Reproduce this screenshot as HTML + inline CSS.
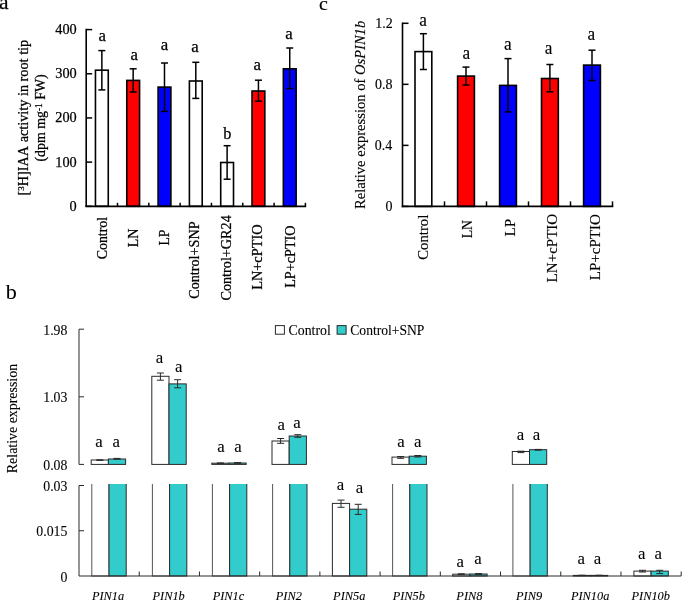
<!DOCTYPE html>
<html><head><meta charset="utf-8"><style>
html,body{margin:0;padding:0;background:#fff;}
svg{display:block;font-family:"Liberation Serif", serif;will-change:transform;}
text{fill:#000;stroke:#000;stroke-width:0.1px;font-kerning:none;font-variant-ligatures:none;font-feature-settings:"liga" 0,"kern" 0;}
.pa text{stroke-width:0.25px;} .pc text{stroke-width:0.15px;} .pb text{stroke-width:0.1px;}
</style></head><body>
<svg width="685" height="603" viewBox="0 0 685 603">
<g class="pa">
<text transform="translate(-0.9,9.3)" font-size="21.5" >a</text>
<line x1="86.2" y1="206.3" x2="92.2" y2="206.3" stroke="#000" stroke-width="1.5"/>
<text transform="translate(69.54,210.74) scale(1,1.0)" font-size="14.3" >0</text>
<line x1="86.2" y1="162.12" x2="92.2" y2="162.12" stroke="#000" stroke-width="1.5"/>
<text transform="translate(55.24,166.56) scale(1,1.0)" font-size="14.3" >100</text>
<line x1="86.2" y1="117.95" x2="92.2" y2="117.95" stroke="#000" stroke-width="1.5"/>
<text transform="translate(55.24,122.39) scale(1,1.0)" font-size="14.3" >200</text>
<line x1="86.2" y1="73.78" x2="92.2" y2="73.78" stroke="#000" stroke-width="1.5"/>
<text transform="translate(55.24,78.21) scale(1,1.0)" font-size="14.3" >300</text>
<line x1="86.2" y1="29.6" x2="92.2" y2="29.6" stroke="#000" stroke-width="1.5"/>
<text transform="translate(55.24,34.04) scale(1,1.0)" font-size="14.3" >400</text>
<rect x="95.46" y="70.2" width="12.8" height="136.1" fill="#fff" stroke="#000" stroke-width="1.6"/>
<line x1="101.86" y1="50.6" x2="101.86" y2="89.9" stroke="#000" stroke-width="1.5"/>
<line x1="98.36" y1="50.6" x2="105.36" y2="50.6" stroke="#000" stroke-width="1.5"/>
<line x1="98.36" y1="89.9" x2="105.36" y2="89.9" stroke="#000" stroke-width="1.5"/>
<text transform="translate(98.49,40.8)" font-size="16.8" >a</text>
<rect x="126.77" y="80.4" width="12.8" height="125.9" fill="#f00" stroke="#000" stroke-width="1.6"/>
<line x1="133.17" y1="68.8" x2="133.17" y2="92.0" stroke="#000" stroke-width="1.5"/>
<line x1="129.67" y1="68.8" x2="136.67" y2="68.8" stroke="#000" stroke-width="1.5"/>
<line x1="129.67" y1="92.0" x2="136.67" y2="92.0" stroke="#000" stroke-width="1.5"/>
<text transform="translate(130.44,60.2)" font-size="16.8" >a</text>
<rect x="158.09" y="87.1" width="12.8" height="119.2" fill="#00f" stroke="#000" stroke-width="1.6"/>
<line x1="164.49" y1="63.0" x2="164.49" y2="111.4" stroke="#000" stroke-width="1.5"/>
<line x1="160.99" y1="63.0" x2="167.99" y2="63.0" stroke="#000" stroke-width="1.5"/>
<line x1="160.99" y1="111.4" x2="167.99" y2="111.4" stroke="#000" stroke-width="1.5"/>
<text transform="translate(160.79,50.2)" font-size="16.8" >a</text>
<rect x="189.4" y="81.0" width="12.8" height="125.3" fill="#fff" stroke="#000" stroke-width="1.6"/>
<line x1="195.8" y1="62.3" x2="195.8" y2="98.4" stroke="#000" stroke-width="1.5"/>
<line x1="192.3" y1="62.3" x2="199.3" y2="62.3" stroke="#000" stroke-width="1.5"/>
<line x1="192.3" y1="98.4" x2="199.3" y2="98.4" stroke="#000" stroke-width="1.5"/>
<text transform="translate(191.29,52.3)" font-size="16.8" >a</text>
<rect x="220.71" y="162.5" width="12.8" height="43.8" fill="#fff" stroke="#000" stroke-width="1.6"/>
<line x1="227.11" y1="145.7" x2="227.11" y2="179.2" stroke="#000" stroke-width="1.5"/>
<line x1="223.61" y1="145.7" x2="230.61" y2="145.7" stroke="#000" stroke-width="1.5"/>
<line x1="223.61" y1="179.2" x2="230.61" y2="179.2" stroke="#000" stroke-width="1.5"/>
<text transform="translate(223.14,139.15)" font-size="16.3" >b</text>
<rect x="252.03" y="91.0" width="12.8" height="115.3" fill="#f00" stroke="#000" stroke-width="1.6"/>
<line x1="258.43" y1="80.2" x2="258.43" y2="101.2" stroke="#000" stroke-width="1.5"/>
<line x1="254.93" y1="80.2" x2="261.93" y2="80.2" stroke="#000" stroke-width="1.5"/>
<line x1="254.93" y1="101.2" x2="261.93" y2="101.2" stroke="#000" stroke-width="1.5"/>
<text transform="translate(253.49,70.1)" font-size="16.8" >a</text>
<rect x="283.34" y="68.8" width="12.8" height="137.5" fill="#00f" stroke="#000" stroke-width="1.6"/>
<line x1="289.74" y1="48.0" x2="289.74" y2="88.6" stroke="#000" stroke-width="1.5"/>
<line x1="286.24" y1="48.0" x2="293.24" y2="48.0" stroke="#000" stroke-width="1.5"/>
<line x1="286.24" y1="88.6" x2="293.24" y2="88.6" stroke="#000" stroke-width="1.5"/>
<text transform="translate(285.19,39.1)" font-size="16.8" >a</text>
<line x1="86.2" y1="28.85" x2="86.2" y2="207.1" stroke="#000" stroke-width="1.6"/>
<line x1="85.4" y1="206.3" x2="306.2" y2="206.3" stroke="#000" stroke-width="1.8"/>
<line x1="117.51" y1="206.3" x2="117.51" y2="202.8" stroke="#000" stroke-width="1.5"/>
<line x1="148.83" y1="206.3" x2="148.83" y2="202.8" stroke="#000" stroke-width="1.5"/>
<line x1="180.14" y1="206.3" x2="180.14" y2="202.8" stroke="#000" stroke-width="1.5"/>
<line x1="211.46" y1="206.3" x2="211.46" y2="202.8" stroke="#000" stroke-width="1.5"/>
<line x1="242.77" y1="206.3" x2="242.77" y2="202.8" stroke="#000" stroke-width="1.5"/>
<line x1="274.09" y1="206.3" x2="274.09" y2="202.8" stroke="#000" stroke-width="1.5"/>
<line x1="305.4" y1="206.3" x2="305.4" y2="202.8" stroke="#000" stroke-width="1.5"/>
<text transform="translate(107.2,259.32) rotate(-90) scale(0.98,1)" font-size="14.2" >Control</text>
<text transform="translate(137.9,247.25) rotate(-90) scale(0.99,1)" font-size="14.2" >LN</text>
<text transform="translate(169.2,245.55) rotate(-90) scale(0.97,1)" font-size="14.2" >LP</text>
<text transform="translate(198.9,298.83) rotate(-90) scale(1.0,1)" font-size="14.2" >Control+SNP</text>
<text transform="translate(231.1,300.53) rotate(-90) scale(1.0,1)" font-size="14.2" >Control+GR24</text>
<text transform="translate(262.4,289.86) rotate(-90) scale(1.01,1)" font-size="14.2" >LN+cPTIO</text>
<text transform="translate(294.6,287.86) rotate(-90) scale(1.0,1)" font-size="14.2" >LP+cPTIO</text>
<text transform="translate(27.7,195.5) rotate(-90) scale(1.004,1)" font-size="14.2">[<tspan font-size="9" dy="-3.4">3</tspan><tspan dy="3.4">H]IAA activity in root tip</tspan></text>
<text transform="translate(45.2,161.6) rotate(-90) scale(0.98,1)" font-size="14.2">(dpm mg<tspan font-size="9.5" dy="-3.6">-1</tspan><tspan dy="3.6"> FW)</tspan></text>
</g>
<g class="pc">
<text transform="translate(319.1,10.4) scale(1.05,1)" font-size="19.0" >c</text>
<line x1="402.5" y1="206.4" x2="408.5" y2="206.4" stroke="#000" stroke-width="1.5"/>
<text transform="translate(385.58,211.27) scale(1,1.04)" font-size="14.0" >0</text>
<line x1="402.5" y1="145.37" x2="408.5" y2="145.37" stroke="#000" stroke-width="1.5"/>
<text transform="translate(374.77,150.21) scale(1,1.04)" font-size="14.0" >0.4</text>
<line x1="402.5" y1="84.33" x2="408.5" y2="84.33" stroke="#000" stroke-width="1.5"/>
<text transform="translate(375.08,89.17) scale(1,1.04)" font-size="14.0" >0.8</text>
<line x1="402.5" y1="23.3" x2="408.5" y2="23.3" stroke="#000" stroke-width="1.5"/>
<text transform="translate(375.32,28.12) scale(1,1.04)" font-size="14.0" >1.2</text>
<rect x="415.0" y="51.6" width="16.8" height="154.8" fill="#fff" stroke="#000" stroke-width="1.6"/>
<line x1="423.4" y1="33.7" x2="423.4" y2="69.5" stroke="#000" stroke-width="1.5"/>
<line x1="419.9" y1="33.7" x2="426.9" y2="33.7" stroke="#000" stroke-width="1.5"/>
<line x1="419.9" y1="69.5" x2="426.9" y2="69.5" stroke="#000" stroke-width="1.5"/>
<text transform="translate(419.15,25.95) scale(1,1.04)" font-size="17.2" >a</text>
<rect x="457.6" y="76.1" width="16.8" height="130.3" fill="#f00" stroke="#000" stroke-width="1.6"/>
<line x1="466.0" y1="67.1" x2="466.0" y2="85.0" stroke="#000" stroke-width="1.5"/>
<line x1="462.5" y1="67.1" x2="469.5" y2="67.1" stroke="#000" stroke-width="1.5"/>
<line x1="462.5" y1="85.0" x2="469.5" y2="85.0" stroke="#000" stroke-width="1.5"/>
<text transform="translate(462.4,59.45) scale(1,1.04)" font-size="17.2" >a</text>
<rect x="499.6" y="85.4" width="16.8" height="121.0" fill="#00f" stroke="#000" stroke-width="1.6"/>
<line x1="508.0" y1="58.6" x2="508.0" y2="111.9" stroke="#000" stroke-width="1.5"/>
<line x1="504.5" y1="58.6" x2="511.5" y2="58.6" stroke="#000" stroke-width="1.5"/>
<line x1="504.5" y1="111.9" x2="511.5" y2="111.9" stroke="#000" stroke-width="1.5"/>
<text transform="translate(504.0,50.15) scale(1,1.04)" font-size="17.2" >a</text>
<rect x="541.5" y="78.5" width="16.8" height="127.9" fill="#f00" stroke="#000" stroke-width="1.6"/>
<line x1="549.9" y1="64.5" x2="549.9" y2="91.8" stroke="#000" stroke-width="1.5"/>
<line x1="546.4" y1="64.5" x2="553.4" y2="64.5" stroke="#000" stroke-width="1.5"/>
<line x1="546.4" y1="91.8" x2="553.4" y2="91.8" stroke="#000" stroke-width="1.5"/>
<text transform="translate(544.65,53.55) scale(1,1.04)" font-size="17.2" >a</text>
<rect x="583.6" y="65.1" width="16.8" height="141.3" fill="#00f" stroke="#000" stroke-width="1.6"/>
<line x1="592.0" y1="50.2" x2="592.0" y2="80.5" stroke="#000" stroke-width="1.5"/>
<line x1="588.5" y1="50.2" x2="595.5" y2="50.2" stroke="#000" stroke-width="1.5"/>
<line x1="588.5" y1="80.5" x2="595.5" y2="80.5" stroke="#000" stroke-width="1.5"/>
<text transform="translate(587.45,40.15) scale(1,1.04)" font-size="17.2" >a</text>
<line x1="402.5" y1="22.55" x2="402.5" y2="207.2" stroke="#000" stroke-width="1.6"/>
<line x1="401.7" y1="206.4" x2="613.3" y2="206.4" stroke="#000" stroke-width="1.8"/>
<line x1="444.5" y1="206.4" x2="444.5" y2="201.4" stroke="#000" stroke-width="1.5"/>
<line x1="486.5" y1="206.4" x2="486.5" y2="201.4" stroke="#000" stroke-width="1.5"/>
<line x1="528.5" y1="206.4" x2="528.5" y2="201.4" stroke="#000" stroke-width="1.5"/>
<line x1="570.5" y1="206.4" x2="570.5" y2="201.4" stroke="#000" stroke-width="1.5"/>
<line x1="612.5" y1="206.4" x2="612.5" y2="201.4" stroke="#000" stroke-width="1.5"/>
<text transform="translate(427.8,259.75) rotate(-90) scale(1.01,1)" font-size="14.6" >Control</text>
<text transform="translate(471.6,238.35) rotate(-90) scale(0.95,1)" font-size="14.6" >LN</text>
<text transform="translate(515.0,236.49) rotate(-90) scale(1.04,1)" font-size="14.6" >LP</text>
<text transform="translate(557.0,282.38) rotate(-90) scale(1.03,1)" font-size="14.6" >LN+cPTIO</text>
<text transform="translate(600.0,280.28) rotate(-90) scale(1.03,1)" font-size="14.6" >LP+cPTIO</text>
<text transform="translate(364.6,209.0) rotate(-90) scale(1.042,1)" font-size="14">Relative expression of <tspan font-style="italic">OsPIN1b</tspan></text>
</g>
<g class="pb">
<text transform="translate(5.8,298.6) scale(1.08,1)" font-size="20.5" >b</text>
<rect x="275.4" y="325.6" width="9" height="8.6" fill="#fff" stroke="#2a2a2a" stroke-width="1"/>
<text transform="translate(288.58,334.6) scale(1,1.0)" font-size="13.8" >Control</text>
<rect x="337.1" y="325.6" width="9" height="8.6" fill="#33cccc" stroke="#2a2a2a" stroke-width="1"/>
<text transform="translate(350.29,334.6) scale(1,1.0)" font-size="13.6" >Control+SNP</text>
<text transform="translate(16.8,473.15) rotate(-90) scale(0.98,1)" font-size="14.2" >Relative expression</text>
<text transform="translate(43.23,335.09) scale(1,1.0)" font-size="13.8" >1.98</text>
<text transform="translate(43.24,402.29) scale(1,1.0)" font-size="13.8" >1.03</text>
<text transform="translate(43.23,469.84) scale(1,1.0)" font-size="13.8" >0.08</text>
<text transform="translate(43.24,490.64) scale(1,1.0)" font-size="13.8" >0.03</text>
<text transform="translate(36.34,536.14) scale(1,1.0)" font-size="13.8" >0.015</text>
<text transform="translate(60.48,581.77) scale(1,1.0)" font-size="13.8" >0</text>
<clipPath id="cl"><rect x="70" y="484" width="620" height="100"/></clipPath>
<rect x="91.2" y="460.0" width="17.2" height="4.4" fill="#fff" stroke="#2a2a2a" stroke-width="1"/>
<rect x="108.4" y="459.0" width="17.2" height="5.4" fill="#33cccc" stroke="#2a2a2a" stroke-width="1"/>
<line x1="99.8" y1="459.8" x2="99.8" y2="460.4" stroke="#2a2a2a" stroke-width="1"/>
<line x1="96.3" y1="459.8" x2="103.3" y2="459.8" stroke="#2a2a2a" stroke-width="1"/>
<line x1="96.3" y1="460.4" x2="103.3" y2="460.4" stroke="#2a2a2a" stroke-width="1"/>
<line x1="117.0" y1="458.4" x2="117.0" y2="459.2" stroke="#2a2a2a" stroke-width="1"/>
<line x1="113.5" y1="458.4" x2="120.5" y2="458.4" stroke="#2a2a2a" stroke-width="1"/>
<line x1="113.5" y1="459.2" x2="120.5" y2="459.2" stroke="#2a2a2a" stroke-width="1"/>
<g clip-path="url(#cl)">
<rect x="91.8" y="480" width="17.2" height="96.0" fill="#fff" stroke="#555" stroke-width="1"/>
<rect x="109.0" y="480" width="17.2" height="96.0" fill="#33cccc" stroke="#2a2a2a" stroke-width="1"/>
</g>
<text transform="translate(91.88,599.7) scale(1,1.03)" font-size="12.4"  font-style="italic">PIN1a</text>
<rect x="151.8" y="376.3" width="17.2" height="88.1" fill="#fff" stroke="#2a2a2a" stroke-width="1"/>
<rect x="169.0" y="383.9" width="17.2" height="80.5" fill="#33cccc" stroke="#2a2a2a" stroke-width="1"/>
<line x1="160.4" y1="373.0" x2="160.4" y2="380.2" stroke="#2a2a2a" stroke-width="1"/>
<line x1="156.9" y1="373.0" x2="163.9" y2="373.0" stroke="#2a2a2a" stroke-width="1"/>
<line x1="156.9" y1="380.2" x2="163.9" y2="380.2" stroke="#2a2a2a" stroke-width="1"/>
<line x1="177.6" y1="379.7" x2="177.6" y2="387.8" stroke="#2a2a2a" stroke-width="1"/>
<line x1="174.1" y1="379.7" x2="181.1" y2="379.7" stroke="#2a2a2a" stroke-width="1"/>
<line x1="174.1" y1="387.8" x2="181.1" y2="387.8" stroke="#2a2a2a" stroke-width="1"/>
<g clip-path="url(#cl)">
<rect x="152.4" y="480" width="17.2" height="96.0" fill="#fff" stroke="#555" stroke-width="1"/>
<rect x="169.6" y="480" width="17.2" height="96.0" fill="#33cccc" stroke="#2a2a2a" stroke-width="1"/>
</g>
<text transform="translate(152.43,599.7) scale(1,1.03)" font-size="12.4"  font-style="italic">PIN1b</text>
<rect x="211.8" y="463.2" width="17.2" height="1.2" fill="#fff" stroke="#2a2a2a" stroke-width="1"/>
<rect x="229.0" y="463.0" width="17.2" height="1.4" fill="#33cccc" stroke="#2a2a2a" stroke-width="1"/>
<line x1="220.4" y1="462.9" x2="220.4" y2="463.6" stroke="#2a2a2a" stroke-width="1"/>
<line x1="216.9" y1="462.9" x2="223.9" y2="462.9" stroke="#2a2a2a" stroke-width="1"/>
<line x1="216.9" y1="463.6" x2="223.9" y2="463.6" stroke="#2a2a2a" stroke-width="1"/>
<line x1="237.6" y1="462.6" x2="237.6" y2="463.3" stroke="#2a2a2a" stroke-width="1"/>
<line x1="234.1" y1="462.6" x2="241.1" y2="462.6" stroke="#2a2a2a" stroke-width="1"/>
<line x1="234.1" y1="463.3" x2="241.1" y2="463.3" stroke="#2a2a2a" stroke-width="1"/>
<g clip-path="url(#cl)">
<rect x="212.4" y="480" width="17.2" height="96.0" fill="#fff" stroke="#555" stroke-width="1"/>
<rect x="229.6" y="480" width="17.2" height="96.0" fill="#33cccc" stroke="#2a2a2a" stroke-width="1"/>
</g>
<text transform="translate(212.66,599.7) scale(1,1.03)" font-size="12.4"  font-style="italic">PIN1c</text>
<rect x="272.0" y="441.0" width="17.2" height="23.4" fill="#fff" stroke="#2a2a2a" stroke-width="1"/>
<rect x="289.2" y="436.0" width="17.2" height="28.4" fill="#33cccc" stroke="#2a2a2a" stroke-width="1"/>
<line x1="280.6" y1="438.5" x2="280.6" y2="443.3" stroke="#2a2a2a" stroke-width="1"/>
<line x1="277.1" y1="438.5" x2="284.1" y2="438.5" stroke="#2a2a2a" stroke-width="1"/>
<line x1="277.1" y1="443.3" x2="284.1" y2="443.3" stroke="#2a2a2a" stroke-width="1"/>
<line x1="297.8" y1="434.7" x2="297.8" y2="437.3" stroke="#2a2a2a" stroke-width="1"/>
<line x1="294.3" y1="434.7" x2="301.3" y2="434.7" stroke="#2a2a2a" stroke-width="1"/>
<line x1="294.3" y1="437.3" x2="301.3" y2="437.3" stroke="#2a2a2a" stroke-width="1"/>
<g clip-path="url(#cl)">
<rect x="272.6" y="480" width="17.2" height="96.0" fill="#fff" stroke="#555" stroke-width="1"/>
<rect x="289.8" y="480" width="17.2" height="96.0" fill="#33cccc" stroke="#2a2a2a" stroke-width="1"/>
</g>
<text transform="translate(275.68,599.7) scale(1,1.03)" font-size="12.4"  font-style="italic">PIN2</text>
<rect x="332.4" y="503.4" width="17.2" height="72.6" fill="#fff" stroke="#2a2a2a" stroke-width="1"/>
<rect x="349.6" y="509.2" width="17.2" height="66.8" fill="#33cccc" stroke="#2a2a2a" stroke-width="1"/>
<line x1="341.0" y1="500.1" x2="341.0" y2="507.3" stroke="#2a2a2a" stroke-width="1"/>
<line x1="337.5" y1="500.1" x2="344.5" y2="500.1" stroke="#2a2a2a" stroke-width="1"/>
<line x1="337.5" y1="507.3" x2="344.5" y2="507.3" stroke="#2a2a2a" stroke-width="1"/>
<line x1="358.2" y1="504.3" x2="358.2" y2="514.4" stroke="#2a2a2a" stroke-width="1"/>
<line x1="354.7" y1="504.3" x2="361.7" y2="504.3" stroke="#2a2a2a" stroke-width="1"/>
<line x1="354.7" y1="514.4" x2="361.7" y2="514.4" stroke="#2a2a2a" stroke-width="1"/>
<text transform="translate(333.08,599.7) scale(1,1.03)" font-size="12.4"  font-style="italic">PIN5a</text>
<rect x="392.0" y="457.1" width="17.2" height="7.3" fill="#fff" stroke="#2a2a2a" stroke-width="1"/>
<rect x="409.2" y="456.2" width="17.2" height="8.2" fill="#33cccc" stroke="#2a2a2a" stroke-width="1"/>
<line x1="400.6" y1="456.5" x2="400.6" y2="458.3" stroke="#2a2a2a" stroke-width="1"/>
<line x1="397.1" y1="456.5" x2="404.1" y2="456.5" stroke="#2a2a2a" stroke-width="1"/>
<line x1="397.1" y1="458.3" x2="404.1" y2="458.3" stroke="#2a2a2a" stroke-width="1"/>
<line x1="417.8" y1="455.5" x2="417.8" y2="457.0" stroke="#2a2a2a" stroke-width="1"/>
<line x1="414.3" y1="455.5" x2="421.3" y2="455.5" stroke="#2a2a2a" stroke-width="1"/>
<line x1="414.3" y1="457.0" x2="421.3" y2="457.0" stroke="#2a2a2a" stroke-width="1"/>
<g clip-path="url(#cl)">
<rect x="392.6" y="480" width="17.2" height="96.0" fill="#fff" stroke="#555" stroke-width="1"/>
<rect x="409.8" y="480" width="17.2" height="96.0" fill="#33cccc" stroke="#2a2a2a" stroke-width="1"/>
</g>
<text transform="translate(392.63,599.7) scale(1,1.03)" font-size="12.4"  font-style="italic">PIN5b</text>
<rect x="452.7" y="574.2" width="17.2" height="1.8" fill="#fff" stroke="#2a2a2a" stroke-width="1"/>
<rect x="469.9" y="574.0" width="17.2" height="2.0" fill="#33cccc" stroke="#2a2a2a" stroke-width="1"/>
<line x1="461.3" y1="573.8" x2="461.3" y2="574.6" stroke="#2a2a2a" stroke-width="1"/>
<line x1="457.8" y1="573.8" x2="464.8" y2="573.8" stroke="#2a2a2a" stroke-width="1"/>
<line x1="457.8" y1="574.6" x2="464.8" y2="574.6" stroke="#2a2a2a" stroke-width="1"/>
<line x1="478.5" y1="573.6" x2="478.5" y2="574.4" stroke="#2a2a2a" stroke-width="1"/>
<line x1="475.0" y1="573.6" x2="482.0" y2="573.6" stroke="#2a2a2a" stroke-width="1"/>
<line x1="475.0" y1="574.4" x2="482.0" y2="574.4" stroke="#2a2a2a" stroke-width="1"/>
<text transform="translate(456.32,599.7) scale(1,1.03)" font-size="12.4"  font-style="italic">PIN8</text>
<rect x="512.3" y="451.5" width="17.2" height="12.9" fill="#fff" stroke="#2a2a2a" stroke-width="1"/>
<rect x="529.5" y="449.7" width="17.2" height="14.7" fill="#33cccc" stroke="#2a2a2a" stroke-width="1"/>
<line x1="520.9" y1="451.2" x2="520.9" y2="452.6" stroke="#2a2a2a" stroke-width="1"/>
<line x1="517.4" y1="451.2" x2="524.4" y2="451.2" stroke="#2a2a2a" stroke-width="1"/>
<line x1="517.4" y1="452.6" x2="524.4" y2="452.6" stroke="#2a2a2a" stroke-width="1"/>
<line x1="538.1" y1="449.4" x2="538.1" y2="450.2" stroke="#2a2a2a" stroke-width="1"/>
<line x1="534.6" y1="449.4" x2="541.6" y2="449.4" stroke="#2a2a2a" stroke-width="1"/>
<line x1="534.6" y1="450.2" x2="541.6" y2="450.2" stroke="#2a2a2a" stroke-width="1"/>
<g clip-path="url(#cl)">
<rect x="512.9" y="480" width="17.2" height="96.0" fill="#fff" stroke="#555" stroke-width="1"/>
<rect x="530.1" y="480" width="17.2" height="96.0" fill="#33cccc" stroke="#2a2a2a" stroke-width="1"/>
</g>
<text transform="translate(515.95,599.7) scale(1,1.03)" font-size="12.4"  font-style="italic">PIN9</text>
<rect x="573.3" y="575.4" width="17.2" height="0.6" fill="#fff" stroke="#2a2a2a" stroke-width="1"/>
<rect x="590.5" y="575.4" width="17.2" height="0.6" fill="#33cccc" stroke="#2a2a2a" stroke-width="1"/>
<line x1="581.9" y1="575.2" x2="581.9" y2="575.6" stroke="#2a2a2a" stroke-width="1"/>
<line x1="578.4" y1="575.2" x2="585.4" y2="575.2" stroke="#2a2a2a" stroke-width="1"/>
<line x1="578.4" y1="575.6" x2="585.4" y2="575.6" stroke="#2a2a2a" stroke-width="1"/>
<line x1="599.1" y1="575.2" x2="599.1" y2="575.6" stroke="#2a2a2a" stroke-width="1"/>
<line x1="595.6" y1="575.2" x2="602.6" y2="575.2" stroke="#2a2a2a" stroke-width="1"/>
<line x1="595.6" y1="575.6" x2="602.6" y2="575.6" stroke="#2a2a2a" stroke-width="1"/>
<text transform="translate(570.88,599.7) scale(1,1.03)" font-size="12.4"  font-style="italic">PIN10a</text>
<rect x="633.9" y="571.1" width="17.2" height="4.9" fill="#fff" stroke="#2a2a2a" stroke-width="1"/>
<rect x="651.1" y="571.1" width="17.2" height="4.9" fill="#33cccc" stroke="#2a2a2a" stroke-width="1"/>
<line x1="642.5" y1="570.3" x2="642.5" y2="572.0" stroke="#2a2a2a" stroke-width="1"/>
<line x1="639.0" y1="570.3" x2="646.0" y2="570.3" stroke="#2a2a2a" stroke-width="1"/>
<line x1="639.0" y1="572.0" x2="646.0" y2="572.0" stroke="#2a2a2a" stroke-width="1"/>
<line x1="659.7" y1="570.3" x2="659.7" y2="573.6" stroke="#2a2a2a" stroke-width="1"/>
<line x1="656.2" y1="570.3" x2="663.2" y2="570.3" stroke="#2a2a2a" stroke-width="1"/>
<line x1="656.2" y1="573.6" x2="663.2" y2="573.6" stroke="#2a2a2a" stroke-width="1"/>
<text transform="translate(631.43,599.7) scale(1,1.03)" font-size="12.4"  font-style="italic">PIN10b</text>
<line x1="79.0" y1="329.2" x2="79.0" y2="464.4" stroke="#2a2a2a" stroke-width="1"/>
<line x1="79.0" y1="329.2" x2="84.0" y2="329.2" stroke="#2a2a2a" stroke-width="1"/>
<line x1="79.0" y1="396.8" x2="84.0" y2="396.8" stroke="#2a2a2a" stroke-width="1"/>
<line x1="79.0" y1="464.4" x2="84.0" y2="464.4" stroke="#2a2a2a" stroke-width="1"/>
<line x1="79.0" y1="485.5" x2="79.0" y2="576.0" stroke="#2a2a2a" stroke-width="1"/>
<line x1="79.0" y1="485.5" x2="84.0" y2="485.5" stroke="#2a2a2a" stroke-width="1"/>
<line x1="79.0" y1="530.75" x2="84.0" y2="530.75" stroke="#2a2a2a" stroke-width="1"/>
<line x1="79.0" y1="576.0" x2="681.2" y2="576.0" stroke="#2a2a2a" stroke-width="1"/>
<line x1="139.22" y1="576.0" x2="139.22" y2="571.5" stroke="#2a2a2a" stroke-width="1"/>
<line x1="199.44" y1="576.0" x2="199.44" y2="571.5" stroke="#2a2a2a" stroke-width="1"/>
<line x1="259.66" y1="576.0" x2="259.66" y2="571.5" stroke="#2a2a2a" stroke-width="1"/>
<line x1="319.88" y1="576.0" x2="319.88" y2="571.5" stroke="#2a2a2a" stroke-width="1"/>
<line x1="380.1" y1="576.0" x2="380.1" y2="571.5" stroke="#2a2a2a" stroke-width="1"/>
<line x1="440.32" y1="576.0" x2="440.32" y2="571.5" stroke="#2a2a2a" stroke-width="1"/>
<line x1="500.54" y1="576.0" x2="500.54" y2="571.5" stroke="#2a2a2a" stroke-width="1"/>
<line x1="560.76" y1="576.0" x2="560.76" y2="571.5" stroke="#2a2a2a" stroke-width="1"/>
<line x1="620.98" y1="576.0" x2="620.98" y2="571.5" stroke="#2a2a2a" stroke-width="1"/>
<line x1="681.2" y1="576.0" x2="681.2" y2="571.5" stroke="#2a2a2a" stroke-width="1"/>
<text transform="translate(95.29,447.2) scale(1,0.97)" font-size="16.8" >a</text>
<text transform="translate(112.39,447.2) scale(1,0.97)" font-size="16.8" >a</text>
<text transform="translate(155.69,363.1) scale(1,0.97)" font-size="16.8" >a</text>
<text transform="translate(174.94,372.2) scale(1,0.97)" font-size="16.8" >a</text>
<text transform="translate(217.34,452.3) scale(1,0.97)" font-size="16.8" >a</text>
<text transform="translate(234.19,452.3) scale(1,0.97)" font-size="16.8" >a</text>
<text transform="translate(277.49,430.3) scale(1,0.97)" font-size="16.8" >a</text>
<text transform="translate(293.14,428.1) scale(1,0.97)" font-size="16.8" >a</text>
<text transform="translate(336.84,489.7) scale(1,0.97)" font-size="16.8" >a</text>
<text transform="translate(355.64,492.8) scale(1,0.97)" font-size="16.8" >a</text>
<text transform="translate(397.24,446.8) scale(1,0.97)" font-size="16.8" >a</text>
<text transform="translate(414.04,446.8) scale(1,0.97)" font-size="16.8" >a</text>
<text transform="translate(456.54,566.6) scale(1,0.97)" font-size="16.8" >a</text>
<text transform="translate(474.29,564.3) scale(1,0.97)" font-size="16.8" >a</text>
<text transform="translate(516.84,439.9) scale(1,0.97)" font-size="16.8" >a</text>
<text transform="translate(532.79,439.9) scale(1,0.97)" font-size="16.8" >a</text>
<text transform="translate(577.49,564.3) scale(1,0.97)" font-size="16.8" >a</text>
<text transform="translate(593.84,564.3) scale(1,0.97)" font-size="16.8" >a</text>
<text transform="translate(637.89,559.3) scale(1,0.97)" font-size="16.8" >a</text>
<text transform="translate(654.49,559.3) scale(1,0.97)" font-size="16.8" >a</text>
</g>
</svg>
</body></html>
